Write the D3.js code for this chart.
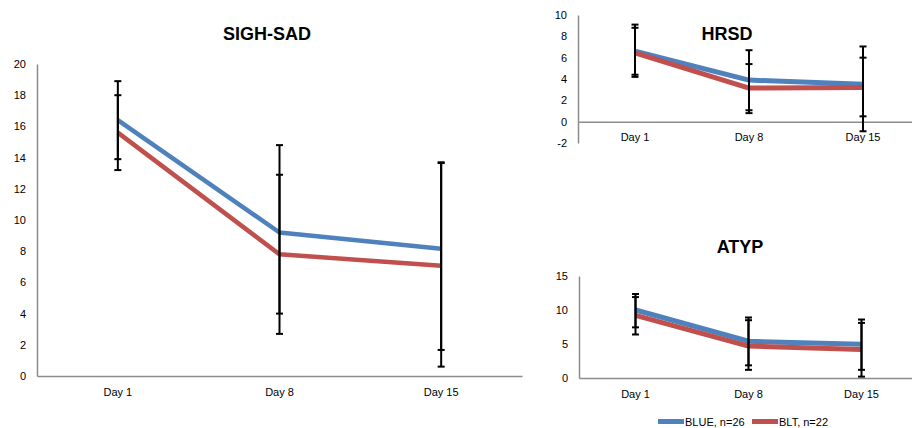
<!DOCTYPE html>
<html><head><meta charset="utf-8">
<script src="https://cdn.jsdelivr.net/npm/d3@7"></script>
<style>
html,body{margin:0;padding:0;background:#fff;}
text{font-family:"Liberation Sans",Arial,sans-serif;}
</style></head>
<body><svg id="c" width="912" height="428"></svg>
<script>
const categories = ["Day 1", "Day 8", "Day 15"];
const seriesNames = ["BLUE, n=26", "BLT, n=22"];

const sighBlue = [16.4, 9.2, 8.15];
const sighRed = [15.6, 7.8, 7.07];
const sighBlueHi = [18.9, 14.8, 13.7];
const sighBlueLo = [13.9, 4.0, 1.67];
const sighRedHi = [18.0, 12.9, 13.65];
const sighRedLo = [13.2, 2.7, 0.6];
const sighTicks = [0, 2, 4, 6, 8, 10, 12, 14, 16, 18, 20];

const hrsdBlue = [6.6, 3.9, 3.5];
const hrsdRed = [6.45, 3.15, 3.2];
const hrsdBlueHi = [9.1, 6.7, 7.05];
const hrsdBlueLo = [4.2, 1.07, -0.9];
const hrsdRedHi = [8.8, 5.4, 6.0];
const hrsdRedLo = [4.4, 0.8, 0.5];
const hrsdTicks = [-2, 0, 2, 4, 6, 8, 10];

const atypBlue = [10.0, 5.4, 4.95];
const atypRed = [9.2, 4.7, 4.2];
const atypBlueHi = [12.35, 8.9, 8.6];
const atypBlueLo = [7.45, 1.86, 1.2];
const atypRedHi = [11.9, 8.5, 8.1];
const atypRedLo = [6.4, 1.2, 0.2];
const atypTicks = [0, 5, 10, 15];

const BLUE = "#4F81BD", RED = "#C0504D", AXIS = "#8C8C8C";
const svg = d3.select("#c");

function panel(o) {
  const g = svg.append("g");
  const x = d3.scaleBand().domain(categories).range([o.left, o.right]);
  const y = d3.scaleLinear().domain([o.ticks[0], o.ticks[o.ticks.length - 1]]).range([o.bottom, o.top]);

  const ya = g.append("g").attr("transform", `translate(${o.left},0)`)
    .call(d3.axisLeft(y).tickValues(o.ticks).tickFormat(d => String(d)).tickSize(0).tickPadding(11));
  ya.select(".domain").attr("stroke", AXIS).attr("stroke-width", 1.5);
  ya.selectAll("text").attr("font-size", 11).attr("fill", "#000");

  const xa = g.append("g").attr("transform", `translate(0,${y(0)})`)
    .call(d3.axisBottom(x).tickSize(0).tickPadding(12));
  xa.select(".domain").attr("stroke", AXIS).attr("stroke-width", 1.5);
  xa.selectAll("text").attr("font-size", 11).attr("fill", "#000");

  const line = d3.line().x((d, i) => x(categories[i]) + x.bandwidth() / 2).y(d => y(d));
  [[o.blue, BLUE], [o.red, RED]].forEach(([vals, col]) => {
    g.append("path").datum(vals).attr("d", line).attr("fill", "none")
      .attr("stroke", col).attr("stroke-width", o.lw).attr("stroke-linejoin", "round");
  });

  [[o.blueLo, o.blueHi], [o.redLo, o.redHi]].forEach(([lo, hi]) => {
    categories.forEach((c, i) => {
      const cx = x(c) + x.bandwidth() / 2;
      g.append("line").attr("x1", cx).attr("x2", cx).attr("y1", y(lo[i])).attr("y2", y(hi[i]))
        .attr("stroke", "#000").attr("stroke-width", 2);
      [lo[i], hi[i]].forEach(v => {
        g.append("line").attr("x1", cx - 3.5).attr("x2", cx + 3.5).attr("y1", y(v)).attr("y2", y(v))
          .attr("stroke", "#000").attr("stroke-width", 2);
      });
    });
  });

  g.append("text").attr("x", o.tx).attr("y", o.ty).attr("text-anchor", "middle")
    .attr("font-size", 18).attr("font-weight", "bold").text(o.title);
}

panel({title: "SIGH-SAD", tx: 267, ty: 40, left: 37, right: 522, top: 64, bottom: 376, ticks: sighTicks, lw: 4.5,
  blue: sighBlue, red: sighRed, blueHi: sighBlueHi, blueLo: sighBlueLo, redHi: sighRedHi, redLo: sighRedLo});
panel({title: "HRSD", tx: 727, ty: 40, left: 578, right: 920, top: 15, bottom: 143, ticks: hrsdTicks, lw: 5,
  blue: hrsdBlue, red: hrsdRed, blueHi: hrsdBlueHi, blueLo: hrsdBlueLo, redHi: hrsdRedHi, redLo: hrsdRedLo});
panel({title: "ATYP", tx: 740, ty: 253, left: 579, right: 918, top: 276, bottom: 378, ticks: atypTicks, lw: 5,
  blue: atypBlue, red: atypRed, blueHi: atypBlueHi, blueLo: atypBlueLo, redHi: atypRedHi, redLo: atypRedLo});

// legend
const leg = svg.append("g");
const legItems = [{name: seriesNames[0], col: BLUE, x: 658}, {name: seriesNames[1], col: RED, x: 752}];
legItems.forEach(d => {
  leg.append("line").attr("x1", d.x).attr("x2", d.x + 26).attr("y1", 421.5).attr("y2", 421.5)
    .attr("stroke", d.col).attr("stroke-width", 5);
  leg.append("text").attr("x", d.x + 27).attr("y", 425.5).attr("font-size", 11).text(d.name);
});
</script></body></html>
